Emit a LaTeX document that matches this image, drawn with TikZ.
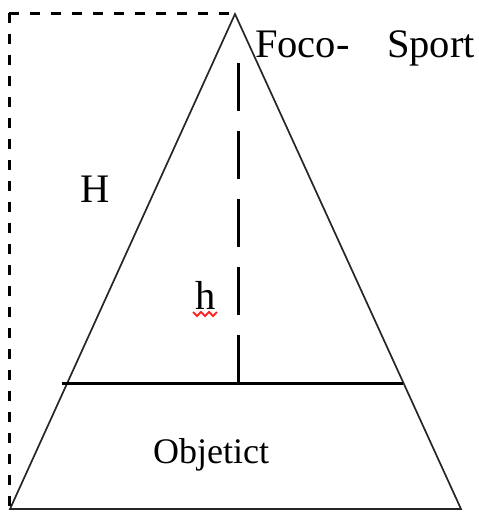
\documentclass[tikz,border=0pt]{standalone}
\usepackage{fontspec}
\setmainfont{Liberation Serif}
\begin{document}
\begin{tikzpicture}[x=1pt,y=-1pt,
  thinline/.style={line width=1.7pt, black!85, line join=miter},
  thickline/.style={line width=3pt},
  longdash/.style={line width=3pt, dash pattern=on 48pt off 20pt},
  shortdash/.style={line width=3pt, dash pattern=on 10pt off 11pt},
  lbl/.style={anchor=base west, inner sep=0pt, font=\fontsize{40.5}{40.5}\selectfont},
  smalllbl/.style={anchor=base west, inner sep=0pt, font=\fontsize{36}{36}\selectfont}]
\useasboundingbox (0,0) rectangle (479,512);
\coordinate (apex) at (235,14);
\coordinate (bl) at (10,509);
\coordinate (br) at (461,509);
\coordinate (tl) at (9,13);
\coordinate (tr) at (235,13);
\coordinate (bll) at (9,509);
\coordinate (hl) at (62,383);
\coordinate (hr) at (403,383);
\coordinate (hm) at (238,383);
\coordinate (dtop) at (238,63);
% triangle
\draw[thinline] (apex) -- (bl) -- (br) -- cycle;
% dashed frame
\draw[shortdash] (tl) -- (tr);
\draw[shortdash] (tl) -- (bll);
% horizontal line
\draw[thickline] (hl) -- (hr);
% dashed height
\draw[longdash] (dtop) -- (hm);
% labels
\node[lbl] (foco) at (255,57) {Foco-};
\node[lbl] (sport) at (387,57) {Sport};
\node[lbl] (H) at (80,202) {H};
\node[lbl] (h) at (195,309) {h};
\node[smalllbl] (obj) at (153,463) {Objetict};
% spell-check squiggle under h
\draw[red!85, line width=2pt] (193,312) -- (197,316) -- (201,312) -- (205,316) -- (209,312) -- (213,316) -- (217,312);
\end{tikzpicture}
\end{document}
